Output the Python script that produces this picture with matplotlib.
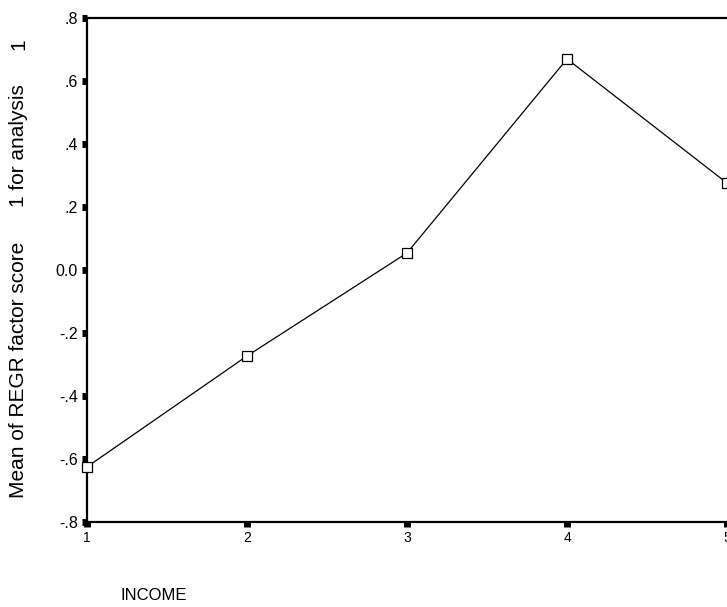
import matplotlib.pyplot as plt

income = [1, 2, 3, 4, 5]
mean_score = [-0.625, -0.273, 0.054, 0.670, 0.276]
yticks = [-0.8, -0.6, -0.4, -0.2, 0.0, 0.2, 0.4, 0.6, 0.8]
ytick_labels = ['-.8', '-.6', '-.4', '-.2', '0.0', '.2', '.4', '.6', '.8']

plt.rcParams['font.family'] = ['Liberation Sans', 'DejaVu Sans']

fig = plt.figure(figsize=(7.27, 6.07), dpi=100)
ax = fig.add_axes([87/727, 85/607, 640/727, 504/607])

ax.plot(income, mean_score, color='black', lw=0.9, marker='s', markersize=6.5,
        markerfacecolor='white', markeredgecolor='black', markeredgewidth=0.9,
        clip_on=False, zorder=3)

ax.set_xlim(1, 5)
ax.set_ylim(-0.8, 0.8)
ax.set_xticks(income)
ax.set_xticklabels([str(i) for i in income], fontsize=10)
ax.set_yticks(yticks)
ax.set_yticklabels(ytick_labels, fontsize=11.5)
ax.tick_params(axis='both', direction='out', length=3.5, width=5, pad=3)

for side in ['left', 'bottom', 'top']:
    ax.spines[side].set_linewidth(1.6)
ax.spines['right'].set_visible(False)

# y label drawn in pieces, the spacing in the original is wide
fig.text(19/727, 1 - 370/607, 'Mean of REGR factor score',
         rotation=90, ha='center', va='center', fontsize=15)
fig.text(19/727, 1 - 146/607, '1 for analysis',
         rotation=90, ha='center', va='center', fontsize=15)
fig.text(19/727, 1 - 44/607, '1',
         rotation=90, ha='center', va='center', fontsize=15)
fig.text(120/727, 1 - 595/607, 'INCOME', ha='left', va='center', fontsize=12)

fig.savefig('out.png', dpi=100)
